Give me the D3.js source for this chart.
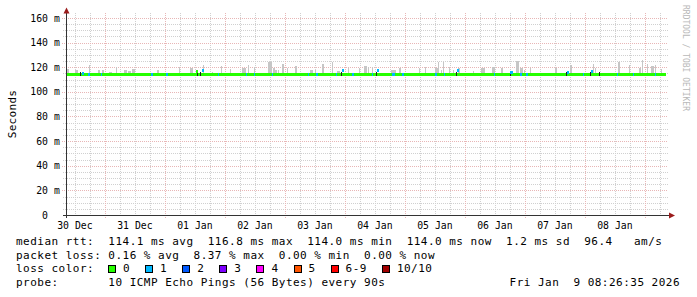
<!DOCTYPE html>
<html>
<head>
<meta charset="utf-8">
<script src="https://cdn.jsdelivr.net/npm/d3@7"></script>
<style>
  html, body { margin: 0; padding: 0; background: #fff; }
  text { font-family: "DejaVu Sans Mono", monospace; white-space: pre; }
</style>
</head>
<body>
<svg id="plot"></svg>
<script>
// time window (10 days ending at graph time)
var startT = new Date(Date.UTC(2025, 11, 30, 8, 26, 35));
var endT = new Date(Date.UTC(2026, 0, 9, 8, 26, 35));

var yTicks = [0, 20, 40, 60, 80, 100, 120, 140, 160];
var medianRtt = 114.2;

// smoke spikes: [hours from start, max rtt ms, duration h]
var smoke = [
  [0.4, 118.5, 0.8], [3.6, 118, 1.2], [9.2, 122, 0.4], [12.8, 118, 0.8], [14.4, 118, 0.8],
  [17.2, 116.5, 1.2], [20, 120, 0.4], [23.2, 118, 1.2], [24.8, 117, 1.2], [26.4, 118.6, 1.2],
  [33.2, 115.5, 0.4], [36.4, 118, 0.8], [45.2, 120, 0.4], [49.6, 119, 1.2], [54.8, 122, 0.4],
  [58.4, 116.5, 0.4], [62, 121, 0.4], [65.6, 118.6, 0.4], [70.4, 119, 0.8], [71.2, 119, 0.8],
  [72.8, 122, 0.4], [75.2, 120.5, 0.4], [80.8, 124, 1.6], [82.8, 119.5, 0.8], [83.6, 118, 0.8],
  [84.8, 117.8, 0.4], [86.4, 122.5, 0.8], [88.4, 119, 0.4], [91.6, 121, 0.8], [97.6, 117.8, 1.2],
  [99.6, 117.8, 0.4], [102.4, 122.4, 0.8], [106.4, 124, 0.4], [108.4, 117, 1.2], [112.8, 119.7, 0.4],
  [117.2, 119.7, 0.4], [119.2, 121, 1.2], [120.8, 120.5, 0.4], [122.4, 120.5, 0.4], [130, 117.8, 1.6],
  [131.2, 117.8, 0.8], [133.2, 119, 0.8], [141.2, 119, 0.4], [143.6, 120.5, 0.4], [147.6, 119, 1.2],
  [148.8, 124, 0.4], [150, 117.8, 0.4], [150.8, 124, 0.4], [153.2, 120.5, 0.4], [154.8, 117.8, 0.4],
  [156.8, 119, 0.8], [162.8, 117, 0.4], [166, 119.7, 1.6], [170.4, 120.5, 1.2], [174, 119, 0.8],
  [180, 125, 1.2], [181.6, 119.7, 1.2], [183.2, 117.8, 0.4], [185.6, 119, 0.4], [195.6, 119.7, 0.8],
  [201.6, 121.8, 0.8], [210.8, 122.4, 0.4], [211.6, 119.7, 0.4], [220.8, 124, 0.8], [225.2, 121.8, 0.4],
  [229.2, 119.7, 0.8], [230.4, 125.9, 0.4], [232.4, 122.4, 0.4], [234, 121, 1.2], [235.6, 121.8, 0.4],
  [238, 118.6, 0.4]
];

// loss events on the median line: [hours from start, lost pings, median ms, duration h]
var lossEvents = [
  [6.4, 1, 115, 0.8], [8.8, 1, 114.2, 0.8], [14, 1, 114.2, 0.4], [34, 1, 114.2, 0.8],
  [40, 1, 114.2, 0.8], [52, 0, 116.5, 0.8], [54.4, 1, 117.5, 0.8], [60.8, 1, 114.2, 0.4],
  [72, 1, 114.2, 0.4], [75.2, 1, 114.2, 0.4], [82.4, 1, 114.2, 0.4], [96.8, 1, 114.2, 0.4],
  [100, 1, 114.2, 0.8], [108, 1, 114.2, 0.4], [110.4, 1, 117.5, 0.8], [114.4, 1, 114.2, 0.8],
  [122.4, 1, 114.2, 0.4], [124.4, 1, 117.5, 0.8], [130.4, 1, 114.2, 1.2], [134.4, 1, 114.2, 0.8],
  [147.6, 1, 114.2, 0.8], [151.2, 1, 114.2, 0.4], [156.4, 1, 117, 0.8], [171.2, 1, 114.2, 0.4],
  [177.6, 1, 115.5, 1.2], [181.6, 1, 114.2, 0.8], [184, 1, 114.2, 0.8], [200.4, 1, 116, 0.8],
  [206.8, 1, 114.2, 0.4], [210, 1, 116.5, 0.8], [220.4, 1, 114.2, 0.4], [226.8, 1, 114.2, 0.4],
  [235.6, 1, 114.2, 0.4]
];

// dark smoke pixels next to loss events (hours from start)
var darkSmoke = [5.6, 52.4, 53.6, 110, 124, 156, 177.6, 200, 209.6, 213.2];

var lossLabels = ["0", "1", "2", "3", "4", "5", "6-9", "10/10"];
var lossColors = ["#26ff00", "#00b8ff", "#0059ff", "#7e00ff", "#ff00fe", "#ff5500", "#ff0000", "#a10000"];

var rttLine = "median rtt:  114.1 ms avg  116.8 ms max  114.0 ms min  114.0 ms now  1.2 ms sd  96.4   am/s";
var lossLine = "packet loss: 0.16 % avg  8.37 % max  0.00 % min  0.00 % now";
var probeLine = "probe:       10 ICMP Echo Pings (56 Bytes) every 90s";
var stampLine = "Fri Jan  9 08:26:35 2026";

var W = 697, H = 297;
var svg = d3.select("#plot").attr("width", W).attr("height", H);
svg.append("rect").attr("width", W).attr("height", H).attr("fill", "#fff");

var x = d3.scaleUtc().domain([startT, endT]).range([66, 666]);
var y = d3.scaleLinear().domain([0, 164]).range([215, 13]);
var t = function(h) { return new Date(+startT + h * 3600e3); };
var gridRight = 668;

// minor grid
var g = svg.append("g").attr("shape-rendering", "crispEdges");
var minorY = d3.range(5, 164, 5).filter(function(v) { return v % 20 != 0; });
g.selectAll(".hmin").data(minorY).enter().append("line")
  .attr("x1", 63).attr("x2", gridRight)
  .attr("y1", function(d) { return Math.round(y(d)) + 0.5; })
  .attr("y2", function(d) { return Math.round(y(d)) + 0.5; })
  .attr("stroke", "#d0d0d0").attr("stroke-dasharray", "1,1");
var sixH = d3.utcHour.every(6).range(startT, endT).filter(function(d) { return d.getUTCHours() != 0; });
g.selectAll(".vmin").data(sixH).enter().append("line")
  .attr("x1", function(d) { return Math.round(x(d)) + 0.5; })
  .attr("x2", function(d) { return Math.round(x(d)) + 0.5; })
  .attr("y1", 13).attr("y2", 217)
  .attr("stroke", "#d0d0d0").attr("stroke-dasharray", "1,1");

// major grid
g.selectAll(".hmaj").data(yTicks.slice(1)).enter().append("line")
  .attr("x1", 62).attr("x2", gridRight)
  .attr("y1", function(d) { return Math.round(y(d)) + 0.5; })
  .attr("y2", function(d) { return Math.round(y(d)) + 0.5; })
  .attr("stroke", "#e8b6b6").attr("stroke-dasharray", "1,1");
var days = d3.utcDay.range(startT, endT);
g.selectAll(".vmaj").data(days).enter().append("line")
  .attr("x1", function(d) { return Math.round(x(d)) + 0.5; })
  .attr("x2", function(d) { return Math.round(x(d)) + 0.5; })
  .attr("y1", 13).attr("y2", 218)
  .attr("stroke", "#e8b6b6").attr("stroke-dasharray", "1,1");

// smoke
var data = svg.append("g").attr("shape-rendering", "crispEdges");
data.selectAll(".smoke").data(smoke).enter().append("rect")
  .attr("x", function(d) { return Math.round(x(t(d[0]))); })
  .attr("width", function(d) { return Math.max(1, Math.round(x(t(d[2])) - x(startT))); })
  .attr("y", function(d) { return Math.round(y(d[1])); })
  .attr("height", function(d) { return Math.round(y(medianRtt) - y(d[1])); })
  .attr("fill", "#c6c6c6");

// median line (0 loss)
data.append("rect")
  .attr("x", x(startT)).attr("width", x(endT) - x(startT))
  .attr("y", Math.round(y(medianRtt) - 1.5)).attr("height", 3)
  .attr("fill", lossColors[0]);

data.selectAll(".dark").data(darkSmoke).enter().append("rect")
  .attr("x", function(d) { return Math.round(x(t(d))); })
  .attr("width", 1)
  .attr("y", Math.round(y(medianRtt) - 2.5)).attr("height", 4)
  .attr("fill", "#222");

data.selectAll(".loss").data(lossEvents).enter().append("rect")
  .attr("x", function(d) { return Math.round(x(t(d[0]))); })
  .attr("width", function(d) { return Math.max(1, Math.round(x(t(d[3])) - x(startT))); })
  .attr("y", function(d) { return Math.round(y(d[2]) - 1.5); })
  .attr("height", 3)
  .attr("fill", function(d) { return lossColors[d[1]]; });

// axes
var ax = svg.append("g").attr("shape-rendering", "crispEdges");
ax.append("line").attr("x1", 66.5).attr("x2", 66.5).attr("y1", 10).attr("y2", 218).attr("stroke", "#333");
ax.append("line").attr("x1", 63).attr("x2", 670).attr("y1", 215.5).attr("y2", 215.5).attr("stroke", "#333");
svg.append("path").attr("d", "M63.5,13.5 L66.5,7.5 L69.5,13.5 Z").attr("fill", "#9b1c1c");
svg.append("path").attr("d", "M669,212.5 L675,215.5 L669,218.5 Z").attr("fill", "#9b1c1c");

// y labels
var yl = svg.append("g").attr("font-size", "9.8px").attr("fill", "#000");
yl.selectAll(".yn").data(yTicks).enter().append("text")
  .attr("x", 48).attr("y", function(d) { return y(d) + 3.6; })
  .attr("text-anchor", "end").text(function(d) { return d; });
yl.selectAll(".yu").data(yTicks.slice(1)).enter().append("text")
  .attr("x", 54).attr("y", function(d) { return y(d) + 3.6; })
  .text("m");

// x labels, centred on noon
var noon = days.map(function(d) { return d3.utcHour.offset(d, -12); }).concat([d3.utcHour.offset(days[days.length - 1], 12)]);
noon = noon.filter(function(d) { return d > startT && d < endT; });
yl.selectAll(".xl").data(noon).enter().append("text")
  .attr("x", function(d) { return x(d); }).attr("y", 228.5)
  .attr("text-anchor", "middle").text(d3.utcFormat("%d %b"));

svg.append("text").attr("transform", "translate(15.5,114) rotate(-90)")
  .attr("text-anchor", "middle").attr("font-size", "11px").attr("letter-spacing", "0.3px").text("Seconds");

svg.append("text").attr("transform", "translate(683,5) rotate(90)")
  .attr("font-size", "8px").attr("fill", "#b8b8b8").text("RRDTOOL / TOBI OETIKER");

// legend
var lg = svg.append("g").attr("font-size", "11px").attr("letter-spacing", "0.48px").attr("fill", "#000");
lg.append("text").attr("x", 16).attr("y", 245).text(rttLine);
lg.append("text").attr("x", 16).attr("y", 258.7).text(lossLine);
lg.append("text").attr("x", 16).attr("y", 272.4).text("loss color:");
lg.append("text").attr("x", 16).attr("y", 286).text(probeLine);
lg.append("text").attr("x", 680).attr("y", 286).attr("text-anchor", "end").text(stampLine);

var cx = 108;
lossLabels.forEach(function(lab, i) {
  lg.append("rect").attr("x", cx + 0.5).attr("y", 265.5).attr("width", 7).attr("height", 7)
    .attr("fill", lossColors[i]).attr("stroke", "#000").attr("shape-rendering", "crispEdges");
  lg.append("text").attr("x", cx + 15).attr("y", 272.4).text(lab);
  cx += 15 + lab.length * 7.1 + 15;
});
</script>
</body>
</html>
